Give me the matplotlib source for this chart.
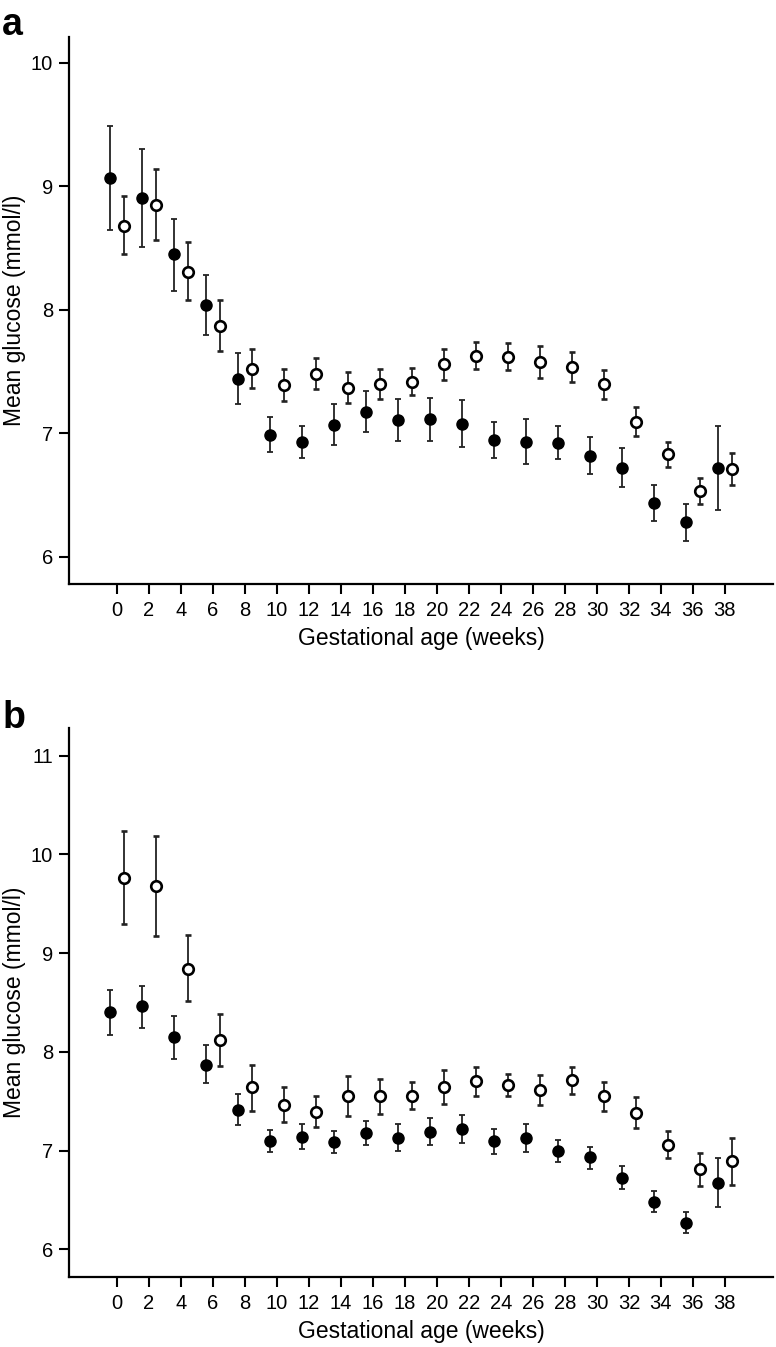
import numpy as np
import matplotlib
matplotlib.use('Agg')
import matplotlib.pyplot as plt

plt.rcParams['font.family'] = ['Liberation Sans', 'DejaVu Sans']

weeks = [0, 2, 4, 6, 8, 10, 12, 14, 16, 18, 20, 22, 24, 26, 28, 30, 32, 34, 36, 38]

# panel a
a_filled = [9.07, 8.91, 8.45, 8.04, 7.44, 6.99, 6.93, 7.07, 7.17, 7.11, 7.12, 7.08, 6.95, 6.93, 6.92, 6.82, 6.72, 6.44, 6.28, 6.72]
a_filled_lo = [8.65, 8.51, 8.15, 7.80, 7.24, 6.85, 6.80, 6.91, 7.01, 6.94, 6.94, 6.89, 6.80, 6.75, 6.79, 6.67, 6.57, 6.29, 6.13, 6.38]
a_filled_hi = [9.49, 9.30, 8.74, 8.28, 7.65, 7.13, 7.06, 7.24, 7.34, 7.28, 7.29, 7.27, 7.09, 7.12, 7.06, 6.97, 6.88, 6.58, 6.43, 7.06]
a_open = [8.68, 8.85, 8.31, 7.87, 7.52, 7.39, 7.48, 7.37, 7.40, 7.42, 7.56, 7.63, 7.62, 7.58, 7.54, 7.40, 7.09, 6.83, 6.53, 6.71]
a_open_lo = [8.45, 8.57, 8.08, 7.67, 7.37, 7.26, 7.36, 7.25, 7.28, 7.31, 7.43, 7.52, 7.51, 7.45, 7.42, 7.28, 6.98, 6.73, 6.43, 6.58]
a_open_hi = [8.92, 9.14, 8.55, 8.08, 7.68, 7.52, 7.61, 7.50, 7.52, 7.53, 7.68, 7.74, 7.73, 7.71, 7.66, 7.51, 7.21, 6.93, 6.64, 6.84]

# panel b
b_filled = [8.40, 8.46, 8.15, 7.87, 7.41, 7.10, 7.14, 7.09, 7.18, 7.13, 7.19, 7.22, 7.10, 7.13, 7.00, 6.93, 6.72, 6.48, 6.27, 6.67]
b_filled_lo = [8.17, 8.24, 7.93, 7.68, 7.26, 6.99, 7.02, 6.98, 7.06, 7.00, 7.06, 7.08, 6.97, 6.99, 6.88, 6.81, 6.61, 6.38, 6.17, 6.43]
b_filled_hi = [8.63, 8.67, 8.36, 8.07, 7.57, 7.21, 7.27, 7.20, 7.30, 7.27, 7.33, 7.36, 7.22, 7.27, 7.11, 7.04, 6.84, 6.59, 6.38, 6.92]
b_open = [9.76, 9.68, 8.84, 8.12, 7.64, 7.46, 7.39, 7.55, 7.55, 7.55, 7.64, 7.70, 7.66, 7.61, 7.71, 7.55, 7.38, 7.06, 6.81, 6.89]
b_open_lo = [9.29, 9.17, 8.51, 7.86, 7.40, 7.29, 7.24, 7.35, 7.37, 7.42, 7.47, 7.55, 7.55, 7.46, 7.57, 7.40, 7.23, 6.92, 6.64, 6.65]
b_open_hi = [10.24, 10.19, 9.18, 8.38, 7.87, 7.64, 7.55, 7.76, 7.72, 7.69, 7.82, 7.85, 7.78, 7.77, 7.85, 7.69, 7.54, 7.20, 6.98, 7.13]


def draw_panel(ax, filled, f_lo, f_hi, opn, o_lo, o_hi, ylim, yticks):
    x = np.array(weeks, dtype=float)
    filled = np.array(filled); opn = np.array(opn)
    ferr = [filled - np.array(f_lo), np.array(f_hi) - filled]
    oerr = [opn - np.array(o_lo), np.array(o_hi) - opn]
    ax.errorbar(x - 0.42, filled, yerr=ferr, fmt='o', color='black', ms=8,
                ecolor='#222222', elinewidth=1.3, capsize=2.5, capthick=1.3, zorder=3)
    ax.errorbar(x + 0.43, opn, yerr=oerr, fmt='o', mfc='white', mec='black', mew=1.9,
                ms=7.6, ecolor='#222222', elinewidth=1.3, capsize=2.5, capthick=1.3, zorder=3)
    ax.set_xlim(-3, 41)
    ax.set_ylim(*ylim)
    ax.set_xticks(weeks)
    ax.set_yticks(yticks)
    for s in ['top', 'right']:
        ax.spines[s].set_visible(False)
    for s in ['left', 'bottom']:
        ax.spines[s].set_linewidth(1.6)
    ax.tick_params(axis='both', direction='out', length=7.5, width=1.5, labelsize=14.5, pad=4)
    ax.tick_params(axis='x', pad=5)
    ax.set_xlabel('Gestational age (weeks)', fontsize=16.5, labelpad=5)
    ax.set_ylabel('Mean glucose (mmol/l)', fontsize=16.5)
    ax.yaxis.set_label_coords(-0.061, 0.5)


fig = plt.figure(figsize=(7.76, 13.47), dpi=100)
ax1 = fig.add_axes([0.0889, 0.5664, 0.9071, 0.4061])
ax2 = fig.add_axes([0.0889, 0.0520, 0.9071, 0.4076])

draw_panel(ax1, a_filled, a_filled_lo, a_filled_hi, a_open, a_open_lo, a_open_hi,
           (5.78, 10.21), [6, 7, 8, 9, 10])
draw_panel(ax2, b_filled, b_filled_lo, b_filled_hi, b_open, b_open_lo, b_open_hi,
           (5.72, 11.28), [6, 7, 8, 9, 10, 11])

fig.text(0.003, 0.974, 'a', fontsize=27, fontweight='bold', va='baseline', ha='left')
fig.text(0.003, 0.4595, 'b', fontsize=27, fontweight='bold', va='baseline', ha='left')

fig.savefig('out.png', dpi=100)
